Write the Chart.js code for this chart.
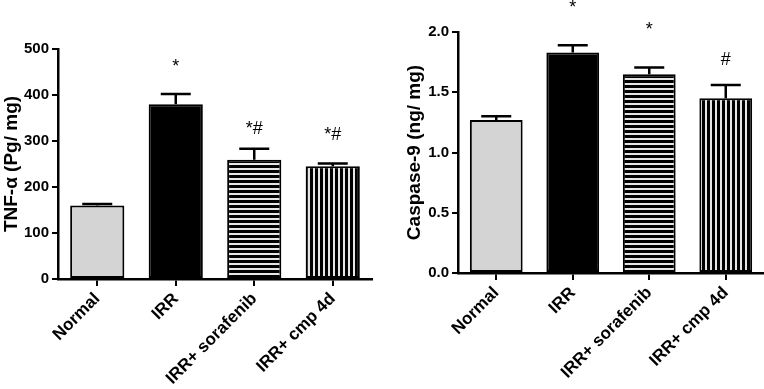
<!DOCTYPE html>
<html>
<head>
<meta charset="utf-8">
<script src="https://cdn.jsdelivr.net/npm/chart.js@4.4.1/dist/chart.umd.min.js"></script>
<style>
  html, body { margin: 0; padding: 0; background: #fff; }
  #wrap { display: flex; width: 764px; height: 389px; }
  .box { position: relative; width: 382px; height: 389px; }
</style>
</head>
<body>
<div id="wrap">
  <div class="box"><canvas id="tnf"></canvas></div>
  <div class="box"><canvas id="casp"></canvas></div>
</div>
<script>
  // groups + values
  const groups = ["Normal", "IRR", "IRR+ sorafenib", "IRR+ cmp 4d"];

  const tnfMean = [160, 380, 259, 245];
  const tnfErr  = [3, 22, 24, 6];
  const tnfSig  = ["", "*", "*#", "*#"];
  const tnfSigAt = [null, 460, 327, 312];
  const tnfTicks = [0, 100, 200, 300, 400, 500];

  const caspMean = [1.27, 1.83, 1.65, 1.45];
  const caspErr  = [0.03, 0.06, 0.055, 0.11];
  const caspSig  = ["", "*", "*", "#"];
  const caspSigAt = [null, 2.2, 2.02, 1.77];
  const caspTicks = [0, 0.5, 1.0, 1.5, 2.0];

  const FONT = "'Liberation Sans', Arial, sans-serif";
  Chart.defaults.font.family = FONT;
  Chart.defaults.color = "#000";

  // striped fills
  function stripes(horizontal) {
    const c = document.createElement("canvas");
    c.width = 5; c.height = 5;
    const g = c.getContext("2d");
    g.fillStyle = "#000";
    g.fillRect(0, 0, 5, 5);
    g.fillStyle = "#e6e6e6";
    if (horizontal) g.fillRect(0, 3, 5, 2);
    else g.fillRect(3, 0, 2, 5);
    return g.createPattern(c, "repeat");
  }
  const fills = ["#d4d4d4", "#000000", stripes(true), stripes(false)];

  // error bars (upper only) + significance marks
  const errBars = {
    id: "errBars",
    afterDatasetsDraw(chart, args, o) {
      const ctx = chart.ctx;
      const y = chart.scales.y;
      const meta = chart.getDatasetMeta(0);
      ctx.save();
      ctx.strokeStyle = "#000";
      ctx.lineWidth = 2.5;
      meta.data.forEach((bar, i) => {
        const top = y.getPixelForValue(o.mean[i] + o.err[i]);
        ctx.beginPath();
        ctx.moveTo(bar.x, bar.y);
        ctx.lineTo(bar.x, top);
        ctx.moveTo(bar.x - 15, top);
        ctx.lineTo(bar.x + 15, top);
        ctx.stroke();
        if (o.sig[i]) {
          ctx.fillStyle = "#000";
          ctx.font = "18px " + FONT;
          ctx.textAlign = "center";
          ctx.textBaseline = "middle";
          ctx.fillText(o.sig[i], bar.x, y.getPixelForValue(o.sigAt[i]));
        }
      });
      ctx.restore();
    }
  };

  function makeChart(id, mean, err, sig, sigAt, ticks, title, fmt, yWidth, xHeight, pad) {
    return new Chart(document.getElementById(id), {
      type: "bar",
      data: {
        labels: groups,
        datasets: [{
          data: mean,
          backgroundColor: fills,
          borderColor: "#000",
          borderWidth: 2,
          borderSkipped: false,
          categoryPercentage: 1,
          barPercentage: 0.69
        }]
      },
      plugins: [errBars],
      options: {
        responsive: true,
        maintainAspectRatio: false,
        animation: false,
        devicePixelRatio: 1,
        layout: { padding: pad },
        plugins: {
          legend: { display: false },
          tooltip: { enabled: false },
          errBars: { mean, err, sig, sigAt }
        },
        scales: {
          x: {
            border: { color: "#000", width: 2.5 },
            grid: { offset: false, drawOnChartArea: false, color: "#000", lineWidth: 2, tickLength: 7 },
            ticks: { autoSkip: false, minRotation: 45, maxRotation: 45, padding: 3,
                     font: { size: 17, weight: "bold" } },
            afterFit: s => { s.height = xHeight; }
          },
          y: {
            min: ticks[0],
            max: ticks[ticks.length - 1],
            afterBuildTicks: s => { s.ticks = ticks.map(v => ({ value: v })); },
            border: { color: "#000", width: 2.5 },
            grid: { drawOnChartArea: false, color: "#000", lineWidth: 2, tickLength: 6 },
            ticks: { padding: 3, font: { size: 15, weight: "bold" }, callback: fmt },
            title: { display: true, text: title, padding: 0,
                     font: { size: 19, weight: "bold" } },
            afterFit: s => { s.width = yWidth; }
          }
        }
      }
    });
  }

  makeChart("tnf", tnfMean, tnfErr, tnfSig, tnfSigAt, tnfTicks, "TNF-α (Pg/ mg)",
            v => String(v), 58, 110, { top: 49, right: 10, left: 0, bottom: 0 });
  makeChart("casp", caspMean, caspErr, caspSig, caspSigAt, caspTicks, "Caspase-9 (ng/ mg)",
            v => v.toFixed(1), 55, 116, { top: 32, right: 0, left: 21, bottom: 0 });
</script>
</body>
</html>
